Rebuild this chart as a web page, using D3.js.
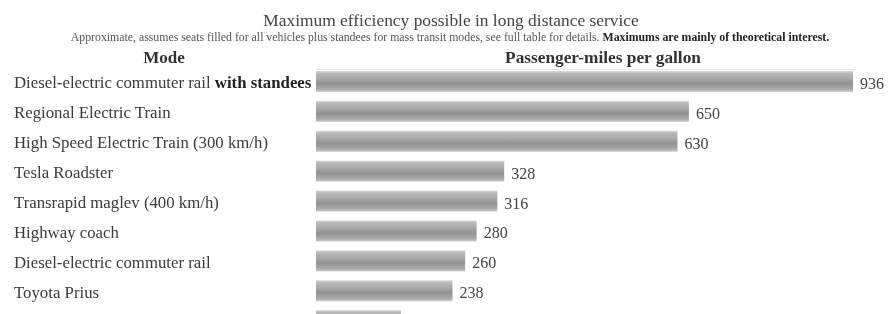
<!DOCTYPE html>
<html>
<head>
<meta charset="utf-8">
<script src="https://cdn.jsdelivr.net/npm/d3@7"></script>
<style>
  html, body { margin: 0; padding: 0; background: #fff; overflow: hidden; }
  svg { display: block; }
</style>
</head>
<body>
<svg id="chart" width="889" height="314"></svg>
<script>
const categories = [
  "Diesel-electric commuter rail|with standees",
  "Regional Electric Train",
  "High Speed Electric Train (300 km/h)",
  "Tesla Roadster",
  "Transrapid maglev (400 km/h)",
  "Highway coach",
  "Diesel-electric commuter rail",
  "Toyota Prius",
  "Passenger car"
];
const values = [936, 650, 630, 328, 316, 280, 260, 238, 148];
const titleText = "Maximum efficiency possible in long distance service";
const subtitlePlain = "Approximate, assumes seats filled for all vehicles plus standees for mass transit modes, see full table for details. ";
const subtitleBold = "Maximums are mainly of theoretical interest.";
const headerMode = "Mode";
const headerValue = "Passenger-miles per gallon";

const W = 889, H = 314;

function available(name) {
  const c = document.createElement("canvas").getContext("2d");
  const s = "Regional Electric Train 0123456789 mmmWWWiiilll";
  c.font = "40px monospace"; const a = c.measureText(s).width;
  c.font = `40px "${name}", monospace`; const b = c.measureText(s).width;
  return Math.abs(a - b) > 0.5;
}
const serifCandidates = ["Liberation Serif", "Times New Roman", "Tinos", "Noto Serif", "DejaVu Serif"];
const serif = serifCandidates.find(available) || "serif";
const svg = d3.select("#chart").attr("font-family", `"${serif}", serif`);

const defs = svg.append("defs");
const grad = defs.append("linearGradient")
  .attr("id", "barGrad").attr("x1", 0).attr("y1", 0).attr("x2", 0).attr("y2", 1);
[[0, "#d8d8d8"], [0.12, "#b8b8b8"], [0.35, "#aaaaaa"], [0.6, "#929292"], [0.85, "#a8a8a8"], [1, "#cacaca"]]
  .forEach(([o, c]) => grad.append("stop").attr("offset", o).attr("stop-color", c));
defs.append("filter").attr("id", "soft").attr("x", "-5%").attr("y", "-5%").attr("width", "110%").attr("height", "110%")
  .append("feGaussianBlur").attr("stdDeviation", 0.45);

const root = svg.append("g").attr("filter", "url(#soft)");

const x = d3.scaleLinear().domain([0, 936]).range([316, 853]);
const y = d3.scaleBand().domain(categories).range([66.5, 335.6]).paddingInner(0.3).paddingOuter(0.15);

// Title
root.append("text").attr("x", 451).attr("y", 26).attr("text-anchor", "middle")
  .attr("font-size", 17.4).attr("fill", "#444").text(titleText);

const sub = root.append("text").attr("x", 450).attr("y", 41).attr("text-anchor", "middle")
  .attr("font-size", 11.8).attr("fill", "#555");
sub.append("tspan").text(subtitlePlain);
sub.append("tspan").attr("font-weight", "bold").attr("fill", "#222").text(subtitleBold);

// Headers
root.append("text").attr("x", 164).attr("y", 62.5).attr("text-anchor", "middle")
  .attr("font-size", 17).attr("font-weight", "bold").attr("fill", "#333").text(headerMode);
root.append("text").attr("x", 603).attr("y", 62.5).attr("text-anchor", "middle")
  .attr("font-size", 17.3).attr("font-weight", "bold").attr("fill", "#333").text(headerValue);

// separator line
root.append("line").attr("x1", x(0)).attr("x2", 855).attr("y1", 69.5).attr("y2", 69.5)
  .attr("stroke", "#e4e4e4").attr("stroke-width", 1);

const data = categories.map((c, i) => ({ cat: c, value: values[i] }));
const labelled = data.filter(d => y(d.cat) + y.bandwidth() / 2 + 8 < H);

// Bars
root.append("g").selectAll("rect").data(data).join("rect")
  .attr("x", x(0))
  .attr("y", d => y(d.cat))
  .attr("width", d => x(d.value) - x(0))
  .attr("height", y.bandwidth())
  .attr("fill", "url(#barGrad)");

// Category labels
const lab = root.append("g").selectAll("text").data(labelled).join("text")
  .attr("x", 14)
  .attr("y", d => y(d.cat) + y.bandwidth() / 2 + 7)
  .attr("font-size", 16.8)
  .attr("fill", "#3a3a3a");
lab.each(function(d) {
  const parts = d.cat.split("|");
  const t = d3.select(this);
  t.append("tspan").text(parts[0]);
  if (parts[1]) t.append("tspan").attr("font-weight", "bold").attr("fill", "#222").text(" " + parts[1]);
});

// Value labels
root.append("g").selectAll("text").data(labelled).join("text")
  .attr("x", d => x(d.value) + 7)
  .attr("y", d => y(d.cat) + y.bandwidth() / 2 + 7.5)
  .attr("font-size", 16)
  .attr("fill", "#444")
  .text(d => d.value);
</script>
</body>
</html>
